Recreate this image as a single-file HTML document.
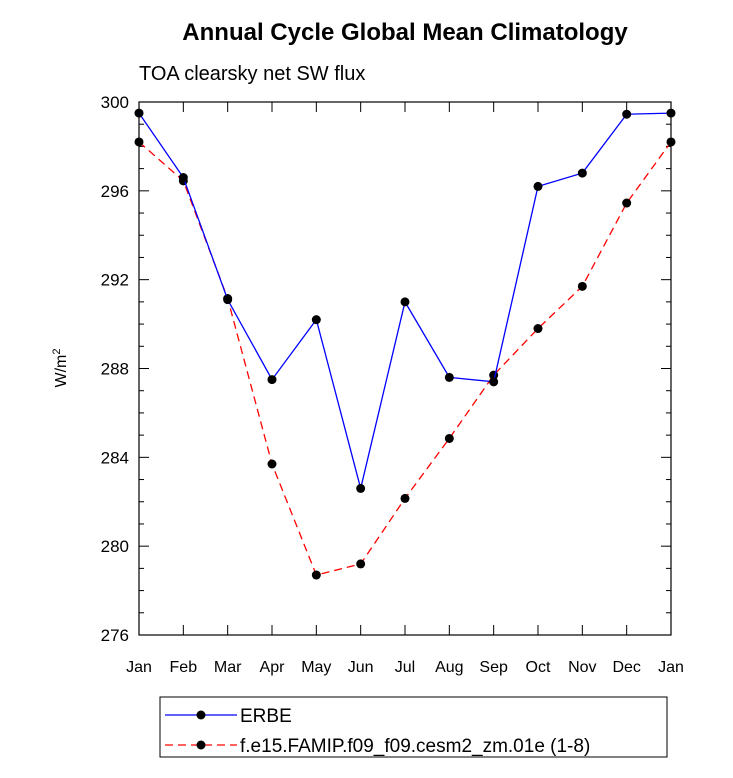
<!DOCTYPE html>
<html><head><meta charset="utf-8"><style>
body{margin:0;background:#fff;}
svg text{font-family:"Liberation Sans",sans-serif;fill:#000;}
</style></head><body>
<svg id="chart" width="733" height="773" xmlns="http://www.w3.org/2000/svg">
<text x="405" y="40" text-anchor="middle" font-size="24" font-weight="bold">Annual Cycle Global Mean Climatology</text>
<text x="139" y="80" font-size="20">TOA clearsky net SW flux</text>
<text transform="translate(66,368) rotate(-90)" text-anchor="middle" font-size="16">W/m<tspan baseline-shift="super" font-size="11">2</tspan></text>
<g id="axes"></g>
<g id="series"></g>
<rect x="160" y="697" width="507" height="60" fill="none" stroke="#000" stroke-width="1"/>
<g>
<line x1="165" y1="715" x2="237" y2="715" stroke="#0000ff" stroke-width="1.3"/>
<circle cx="201" cy="715" r="4.5" fill="#000"/>
<text x="240" y="722" font-size="19">ERBE</text></g>
<g>
<line x1="165" y1="745" x2="237" y2="745" stroke="#ff0000" stroke-width="1.3" stroke-dasharray="8,5"/>
<circle cx="201" cy="745" r="4.5" fill="#000"/>
<text x="240" y="752" font-size="19">f.e15.FAMIP.f09_f09.cesm2_zm.01e (1-8)</text></g>
</svg>
<script>
const months=["Jan","Feb","Mar","Apr","May","Jun","Jul","Aug","Sep","Oct","Nov","Dec","Jan"];
const erbe=[299.5,296.6,291.1,287.5,290.2,282.6,291.0,287.6,287.4,296.2,296.8,299.45,299.5];
const model=[298.2,296.45,291.15,283.7,278.7,279.2,282.15,284.85,287.7,289.8,291.7,295.45,298.2];
const yTicks=[276,280,284,288,292,296,300];
const X0=139,X1=671,Y0=635,Y1=102,ymin=276,ymax=300;
const sx=i=>X0+i*(X1-X0)/(months.length-1);
const sy=v=>Y0-(v-ymin)*(Y0-Y1)/(ymax-ymin);
const NS="http://www.w3.org/2000/svg";
function mk(tag,attrs,parent){const e=document.createElementNS(NS,tag);for(const k in attrs)e.setAttribute(k,attrs[k]);parent.appendChild(e);return e;}
const ax=document.getElementById('axes');
const frame=mk('rect',{x:X0,y:Y1,width:X1-X0,height:Y0-Y1,fill:'none',stroke:'#000','stroke-width':1.2},ax);


for(let v=ymin;v<=ymax;v++){
  const major=(v%4===0);const L=major?10:5;const y=sy(v);
  mk('line',{x1:X0,y1:y,x2:X0+L,y2:y,stroke:'#000'},ax);
  mk('line',{x1:X1,y1:y,x2:X1-L,y2:y,stroke:'#000'},ax);
}
yTicks.forEach(v=>{
  const t=mk('text',{x:X0-10,y:sy(v)+6,'text-anchor':'end','font-size':17},ax);
  t.textContent=v;
  
  
});
months.forEach((m,i)=>{
  const x=sx(i);
  mk('line',{x1:x,y1:Y0,x2:x,y2:Y0-10,stroke:'#000'},ax);
  mk('line',{x1:x,y1:Y1,x2:x,y2:Y1+10,stroke:'#000'},ax);
  const t=mk('text',{x:x,y:Y0+37,'text-anchor':'middle','font-size':16},ax);
  t.textContent=m;
  
  
});
const sg=document.getElementById('series');
function draw(vals,color,dash,name){
  const g=mk('g',{},sg);
  
  
  const pts=vals.map((v,i)=>sx(i)+','+sy(v)).join(' ');
  const a={points:pts,fill:'none',stroke:color,'stroke-width':1.3};
  if(dash)a['stroke-dasharray']=dash;
  mk('polyline',a,g);
  vals.forEach((v,i)=>{
    const c=mk('circle',{cx:sx(i),cy:sy(v),r:4.5,fill:'#000'},g);
    
    
  });
}
draw(model,'#ff0000','8,5','model-series');
draw(erbe,'#0000ff',null,'erbe-series');
</script>
</body></html>
